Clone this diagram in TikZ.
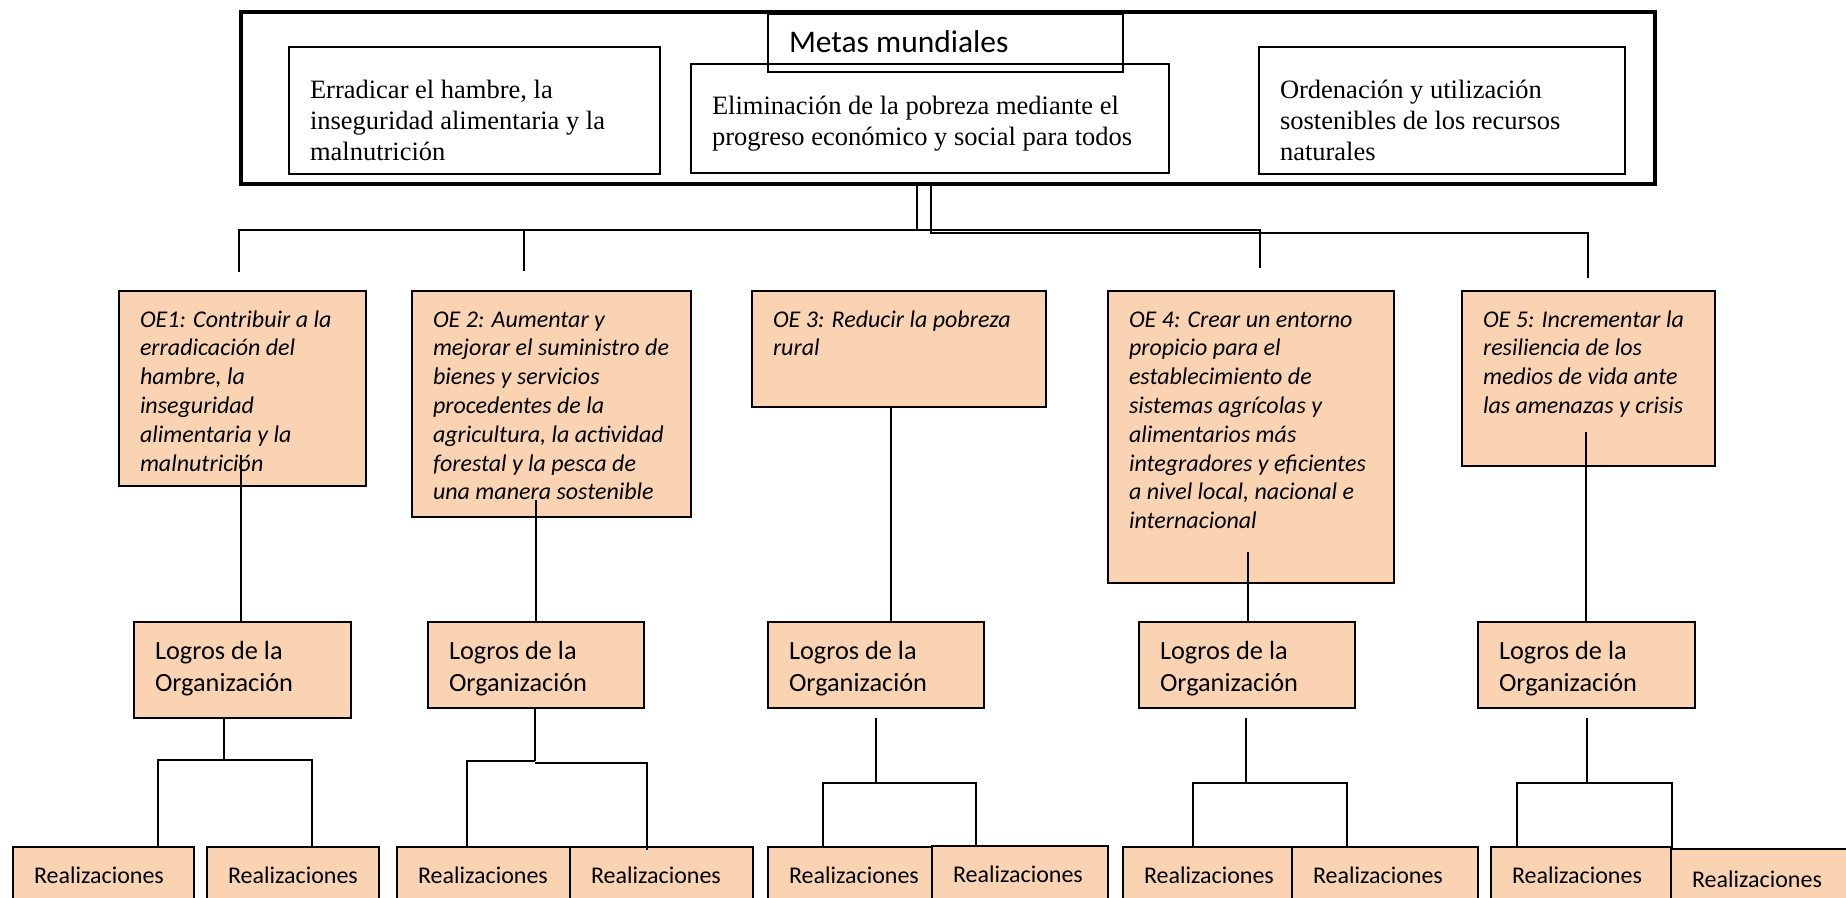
\documentclass[tikz,border=0pt]{standalone}
\usepackage{fontspec}
\setmainfont{Liberation Serif}
\newfontfamily\calibri{Carlito}
\usetikzlibrary{positioning}
\definecolor{peach}{RGB}{250,212,178}

% text inside a box: width, height, space above first line, text
\newcommand{\boxtext}[4]{\parbox[c][#2pt][t]{#1pt}{\raggedright\leftskip=21pt\rightskip=-40pt plus 1fil\relax\vspace*{#3pt}\strut#4}}

\tikzset{
  box/.style={draw, anchor=north west, inner sep=0pt, outer sep=0pt, line width=1.5pt},
  frame/.style={box, line width=4.5pt},
  goal/.style={box, font=\fontsize{26.5}{31}\selectfont},
  title/.style={box, font=\calibri\fontsize{31.5}{38}\selectfont},
  oe/.style={box, fill=peach, line width=1.8pt, font=\calibri\itshape\fontsize{24}{28.8}\selectfont},
  logro/.style={box, fill=peach, line width=1.8pt, font=\calibri\fontsize{26.3}{32}\selectfont},
  real/.style={box, fill=peach, line width=1.8pt, font=\calibri\fontsize{24}{29}\selectfont},
  link/.style={line width=1.5pt}
}

\begin{document}
\begin{tikzpicture}[x=1pt,y=-1pt]
    \useasboundingbox (0,0) rectangle (1846,897);
    \clip (0,0) rectangle (1846,897);

    % Metas mundiales
    \node[frame, minimum width=1414pt, minimum height=172pt] (goals) at (241,12) {};
    \node[title] (metas) at (768,14) {\boxtext{355}{58}{12}{Metas mundiales}};
    \node[goal] (g1) at (289,47) {\boxtext{371}{127}{29.5}{Erradicar el hambre, la\\inseguridad alimentaria y la\\malnutrición}};
    \node[goal] (g2) at (691,64) {\boxtext{478}{109}{28.5}{Eliminación de la pobreza mediante el\\progreso económico y social para todos}};
    \node[goal] (g3) at (1259,47) {\boxtext{366}{127}{29.5}{Ordenación y utilización\\sostenibles de los recursos\\naturales}};

    % Objetivos estrategicos
    \node[oe] (oe1) at (119,291) {\boxtext{247}{195}{16}{OE1: Contribuir a la\\erradicación del\\hambre, la\\inseguridad\\alimentaria y la\\malnutrición}};
    \node[oe] (oe2) at (412,291) {\boxtext{279}{226}{16}{OE 2: Aumentar y\\mejorar el suministro de\\bienes y servicios\\procedentes de la\\agricultura, la actividad\\forestal y la pesca de\\una manera sostenible}};
    \node[oe] (oe3) at (752,291) {\boxtext{294}{116}{16}{OE 3: Reducir la pobreza\\rural}};
    \node[oe] (oe4) at (1108,291) {\boxtext{286}{292}{16}{OE 4: Crear un entorno\\propicio para el\\establecimiento de\\sistemas agrícolas y\\alimentarios más\\integradores y eficientes\\a nivel local, nacional e\\internacional}};
    \node[oe] (oe5) at (1462,291) {\boxtext{253}{175}{16}{OE 5: Incrementar la\\resiliencia de los\\medios de vida ante\\las amenazas y crisis}};

    % Logros de la Organizacion
    \node[logro] (lg1) at (134,622) {\boxtext{217}{96}{15}{Logros de la\\Organización}};
    \node[logro] (lg2) at (428,622) {\boxtext{216}{86}{15}{Logros de la\\Organización}};
    \node[logro] (lg3) at (768,622) {\boxtext{216}{86}{15}{Logros de la\\Organización}};
    \node[logro] (lg4) at (1139,622) {\boxtext{216}{86}{15}{Logros de la\\Organización}};
    \node[logro] (lg5) at (1478,622) {\boxtext{217}{86}{15}{Logros de la\\Organización}};

    % Realizaciones
    \node[real] (r1a) at (13,847) {\boxtext{181}{70}{16}{Realizaciones}};
    \node[real] (r1b) at (207,847) {\boxtext{172}{70}{16}{Realizaciones}};
    \node[real] (r2a) at (397,847) {\boxtext{173}{70}{16}{Realizaciones}};
    \node[real] (r2b) at (570,847) {\boxtext{183}{70}{16}{Realizaciones}};
    \node[real] (r3a) at (768,847) {\boxtext{164}{70}{16}{Realizaciones}};
    \node[real] (r3b) at (932,846) {\boxtext{176}{70}{16}{Realizaciones}};
    \node[real] (r4a) at (1123,847) {\boxtext{169}{70}{16}{Realizaciones}};
    \node[real] (r4b) at (1292,847) {\boxtext{186}{70}{16}{Realizaciones}};
    \node[real] (r5a) at (1491,847) {\boxtext{180}{70}{16}{Realizaciones}};
    \node[real] (r5b) at (1671,849) {\boxtext{185}{70}{18}{Realizaciones}};

    % lines from the goals down to the OE boxes
    \coordinate (t1) at (917,230);
    \coordinate (t2) at (931,233);
    \coordinate (d1) at (239,272);
    \coordinate (d2) at (524,271);
    \coordinate (d4) at (1260,268);
    \coordinate (d5) at (1588,278);
    \draw[link] (goals.south -| t1) -- (t1) -| (d1);
    \draw[link] (t1) -| (d4);
    \draw[link] (t1 -| d2) -- (d2);
    \draw[link] (goals.south -| t2) -- (t2) -| (d5);

    % lines from the OE boxes to the Logros
    \coordinate (s1) at (241,455);
    \coordinate (s2) at (536,500);
    \coordinate (s3) at (891,407);
    \coordinate (s4) at (1248,552);
    \coordinate (s5) at (1586,432);
    \draw[link] (s1) -- (s1 |- lg1.north);
    \draw[link] (s2) -- (s2 |- lg2.north);
    \draw[link] (s3) -- (s3 |- lg3.north);
    \draw[link] (s4) -- (s4 |- lg4.north);
    \draw[link] (s5) -- (s5 |- lg5.north);

    % brackets down to the Realizaciones
    \coordinate (b1) at (224,760);
    \coordinate (bl1) at (158,760);
    \coordinate (br1) at (312,760);
    \draw[link] (b1 |- lg1.south) -- (b1);
    \draw[link] (bl1 |- r1a.north) |- (br1) -- (br1 |- r1b.north);

    \coordinate (b2) at (535,761);
    \coordinate (bl2) at (467,761);
    \coordinate (br2) at (647,763);
    \draw[link, line width=2.6pt] (b2 |- lg2.south) -- (b2);
    \draw[link] (bl2 |- r2a.north) |- (b2);
    \draw[link] (b2 |- br2) -- (br2) -- ([yshift=-3pt]br2 |- r2b.north);

    \coordinate (u3) at (876,718);
    \coordinate (b3) at (876,783);
    \coordinate (bl3) at (823,783);
    \coordinate (br3) at (976,783);
    \draw[link] (u3) -- (b3);
    \draw[link] (bl3 |- r3a.north) |- (br3) -- (br3 |- r3b.north);

    \coordinate (u4) at (1246,718);
    \coordinate (b4) at (1246,783);
    \coordinate (bl4) at (1193,783);
    \coordinate (br4) at (1347,783);
    \draw[link] (u4) -- (b4);
    \draw[link] (bl4 |- r4a.north) |- (br4) -- (br4 |- r4b.north);

    \coordinate (u5) at (1587,718);
    \coordinate (b5) at (1587,783);
    \coordinate (bl5) at (1517,783);
    \coordinate (br5) at (1672,783);
    \draw[link] (u5) -- (b5);
    \draw[link] (bl5 |- r5a.north) |- (br5) -- (br5 |- r5b.north);
\end{tikzpicture}
\end{document}
